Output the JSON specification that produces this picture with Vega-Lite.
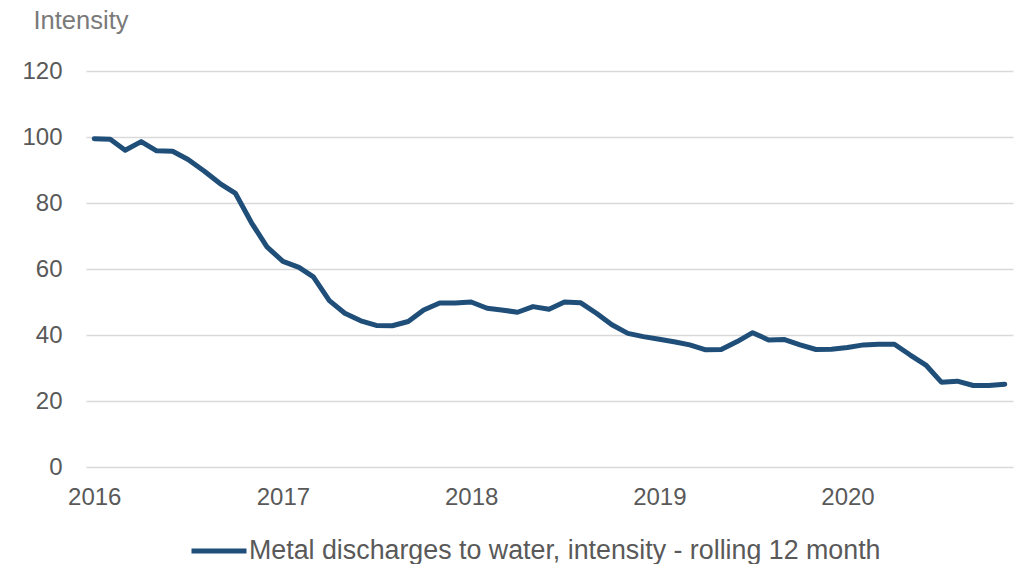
{
  "$schema": "https://vega.github.io/schema/vega-lite/v6.json",
  "autosize": "none",
  "padding": {"left": 86, "top": 71, "right": 9, "bottom": 97},
  "width": 927,
  "height": 396,
  "background": "white",
  "config": {
    "view": {"stroke": null},
    "font": "Liberation Sans"
  },
  "data": {
    "values": [
      {"date": "2016-01-01", "value": 99.5},
      {"date": "2016-02-01", "value": 99.3},
      {"date": "2016-03-01", "value": 96.0},
      {"date": "2016-04-01", "value": 98.6},
      {"date": "2016-05-01", "value": 95.8},
      {"date": "2016-06-01", "value": 95.7},
      {"date": "2016-07-01", "value": 93.2},
      {"date": "2016-08-01", "value": 89.7},
      {"date": "2016-09-01", "value": 85.9},
      {"date": "2016-10-01", "value": 82.9},
      {"date": "2016-11-01", "value": 74.0},
      {"date": "2016-12-01", "value": 66.7},
      {"date": "2017-01-01", "value": 62.3},
      {"date": "2017-02-01", "value": 60.5},
      {"date": "2017-03-01", "value": 57.6},
      {"date": "2017-04-01", "value": 50.4},
      {"date": "2017-05-01", "value": 46.6},
      {"date": "2017-06-01", "value": 44.3},
      {"date": "2017-07-01", "value": 42.9},
      {"date": "2017-08-01", "value": 42.8},
      {"date": "2017-09-01", "value": 44.1},
      {"date": "2017-10-01", "value": 47.6},
      {"date": "2017-11-01", "value": 49.7},
      {"date": "2017-12-01", "value": 49.7},
      {"date": "2018-01-01", "value": 50.0},
      {"date": "2018-02-01", "value": 48.1},
      {"date": "2018-03-01", "value": 47.6},
      {"date": "2018-04-01", "value": 46.9},
      {"date": "2018-05-01", "value": 48.6},
      {"date": "2018-06-01", "value": 47.8},
      {"date": "2018-07-01", "value": 50.0},
      {"date": "2018-08-01", "value": 49.8},
      {"date": "2018-09-01", "value": 46.6},
      {"date": "2018-10-01", "value": 43.1},
      {"date": "2018-11-01", "value": 40.5},
      {"date": "2018-12-01", "value": 39.5},
      {"date": "2019-01-01", "value": 38.7},
      {"date": "2019-02-01", "value": 37.9},
      {"date": "2019-03-01", "value": 37.0},
      {"date": "2019-04-01", "value": 35.5},
      {"date": "2019-05-01", "value": 35.6},
      {"date": "2019-06-01", "value": 38.0},
      {"date": "2019-07-01", "value": 40.7},
      {"date": "2019-08-01", "value": 38.5},
      {"date": "2019-09-01", "value": 38.6},
      {"date": "2019-10-01", "value": 37.0},
      {"date": "2019-11-01", "value": 35.6},
      {"date": "2019-12-01", "value": 35.7},
      {"date": "2020-01-01", "value": 36.2},
      {"date": "2020-02-01", "value": 37.0},
      {"date": "2020-03-01", "value": 37.2},
      {"date": "2020-04-01", "value": 37.2},
      {"date": "2020-05-01", "value": 34.0},
      {"date": "2020-06-01", "value": 30.9},
      {"date": "2020-07-01", "value": 25.7},
      {"date": "2020-08-01", "value": 26.0},
      {"date": "2020-09-01", "value": 24.7},
      {"date": "2020-10-01", "value": 24.7},
      {"date": "2020-11-01", "value": 25.1}
    ]
  },
  "transform": [
    {"calculate": "'Metal discharges to water, intensity - rolling 12 month'", "as": "series"}
  ],
  "mark": {"type": "line", "strokeWidth": 5, "strokeCap": "round", "strokeJoin": "round"},
  "encoding": {
    "x": {
      "field": "date",
      "type": "temporal",
      "scale": {
        "type": "utc",
        "domain": [
          {"year": 2015, "month": 12, "date": 16, "utc": true},
          {"year": 2020, "month": 11, "date": 17, "utc": true}
        ]
      },
      "axis": {
        "title": null,
        "format": "%Y",
        "tickCount": {"interval": "year", "step": 1},
        "domain": false,
        "ticks": false,
        "grid": false,
        "labelFontSize": 24,
        "labelColor": "#595959",
        "labelPadding": 18,
        "labelFlush": false,
        "labelOverlap": false
      }
    },
    "y": {
      "field": "value",
      "type": "quantitative",
      "scale": {"domain": [0, 120], "nice": false, "zero": true},
      "axis": {
        "title": "Intensity",
        "titleAngle": 0,
        "titleAlign": "left",
        "titleBaseline": "middle",
        "titleX": -53,
        "titleY": -51,
        "titleFontSize": 25.5,
        "titleFontWeight": "normal",
        "titleColor": "#7a7a7a",
        "values": [0, 20, 40, 60, 80, 100, 120],
        "domain": false,
        "ticks": false,
        "grid": true,
        "gridColor": "#d9d9d9",
        "gridWidth": 1.5,
        "labelFontSize": 24,
        "labelColor": "#595959",
        "labelPadding": 24
      }
    },
    "color": {
      "field": "series",
      "type": "nominal",
      "scale": {"range": ["#1f4e79"]},
      "legend": {
        "title": null,
        "orient": "none",
        "legendX": 103,
        "legendY": 450,
        "symbolType": "stroke",
        "symbolSize": 3025,
        "symbolStrokeWidth": 5,
        "labelFontSize": 26.8,
        "labelColor": "#595959",
        "labelOffset": 0,
        "labelLimit": 1000
      }
    }
  }
}
